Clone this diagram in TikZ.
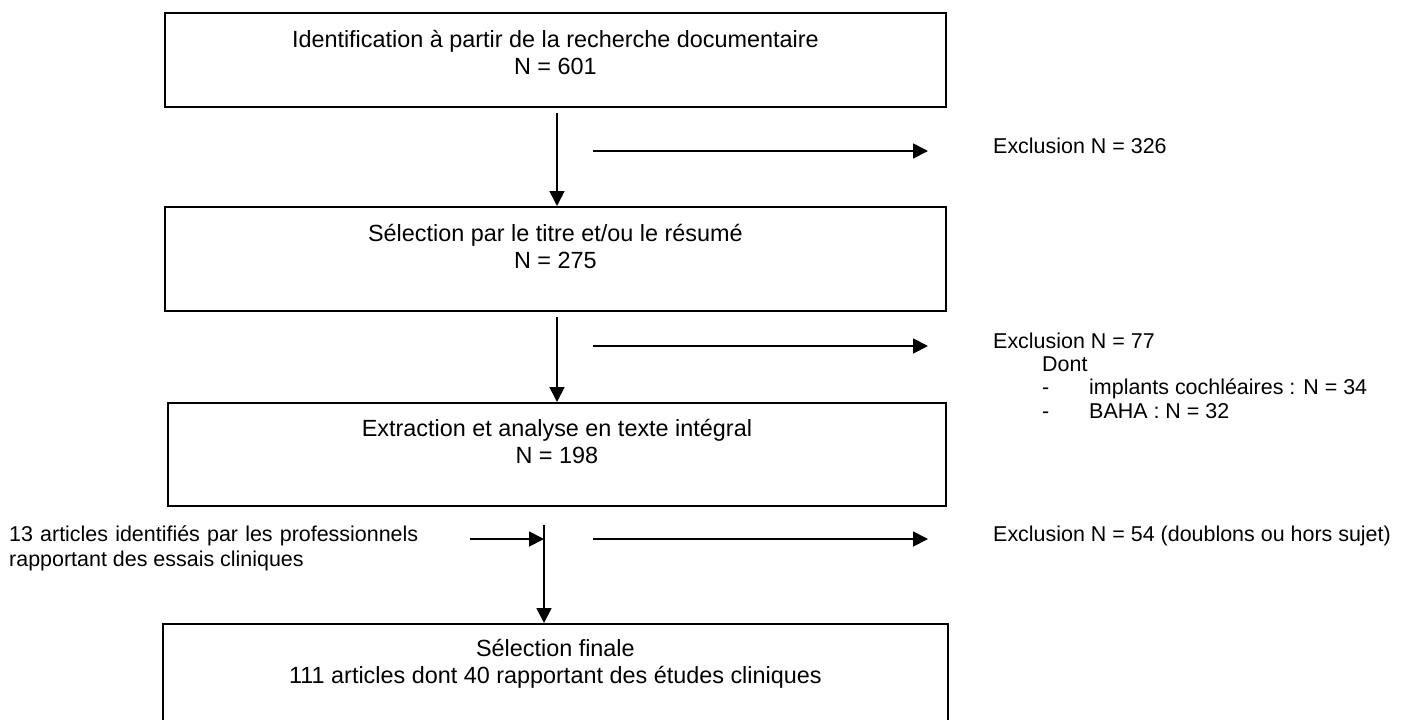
\documentclass[tikz,border=0pt]{standalone}
\usepackage{fontspec}
\setmainfont{Liberation Sans}
\usetikzlibrary{arrows.meta}
\newcommand\boxfont{\fontsize{23.4pt}{26.9pt}\selectfont}
\newcommand\sidefont{\fontsize{21.45pt}{23.3pt}\selectfont}
\tikzset{
  boxnode/.style={draw, line width=1.8pt, inner sep=0pt, anchor=north west, font=\boxfont},
  sidetext/.style={inner sep=0pt, anchor=base west, font=\sidefont},
  sideblock/.style={inner sep=0pt, anchor=north west, font=\sidefont},
  arr/.style={line width=1.8pt, -{Triangle[length=15pt,width=15pt]}},
}
\begin{document}
\begin{tikzpicture}[x=1pt,y=-1pt]
\useasboundingbox (0,0) rectangle (1406,720);
\clip (0,0) rectangle (1406,720);

% boxes
\node[boxnode] (b1) at (164,12)
  {\parbox[t][94pt][t]{781pt}{\centering\rule{0pt}{35pt}Identification à partir de la recherche documentaire\\ N = 601}};
\node[boxnode] (b2) at (164,206)
  {\parbox[t][104pt][t]{781pt}{\centering\rule{0pt}{35pt}Sélection par le titre et/ou le résumé\\ N = 275}};
\node[boxnode] (b3) at (167,402)
  {\parbox[t][103pt][t]{778pt}{\centering\rule{0pt}{34pt}Extraction et analyse en texte intégral\\ N = 198}};
\node[boxnode] (b4) at (162,623)
  {\parbox[t][117pt][t]{785pt}{\centering\rule{0pt}{33pt}Sélection finale\\ 111 articles dont 40 rapportant des études cliniques}};

% side texts
\node[sidetext] (e1) at (993,153) {Exclusion N = 326};
\node[sideblock] (e2) at (993,328)
  {\parbox[t]{400pt}{\raggedright\rule{0pt}{20pt}Exclusion N = 77\\
   \hspace*{49pt}Dont\\
   \hspace*{49pt}\makebox[47pt][l]{-}implants cochléaires : N = 34\\
   \hspace*{49pt}\makebox[47pt][l]{-}BAHA : N = 32}};
\node[sidetext] (e3) at (993,541) {Exclusion N = 54 (doublons ou hors sujet)};
\node[sideblock] (lt) at (9,521.7)
  {\parbox[t]{420pt}{\raggedright\fontsize{21.45pt}{24.5pt}\selectfont\rule{0pt}{20pt}\makebox[409pt][s]{13 articles identifiés par les professionnels}\\
   rapportant des essais cliniques}};

% vertical flow
\coordinate (v1s) at (557,113);
\coordinate (v2s) at (557,317);
\coordinate (v3s) at (544,525);
\draw[arr] (v1s) -- (v1s |- b2.north);
\draw[arr] (v2s) -- (v2s |- b3.north);
\draw[arr] (v3s) -- (v3s |- b4.north);

% horizontal exclusion arrows
\coordinate (h1s) at (593,151);
\coordinate (h1e) at (928,151);
\coordinate (h2s) at (593,346);
\coordinate (h2e) at (928,346);
\coordinate (h3s) at (593,539);
\coordinate (h3e) at (928,539);
\draw[arr] (h1s) -- (h1e);
\draw[arr] (h2s) -- (h2e);
\draw[arr] (h3s) -- (h3e);

% incoming arrow from the left
\coordinate (la) at (470,539);
\draw[arr] (la) -- (la -| v3s);
\end{tikzpicture}
\end{document}
